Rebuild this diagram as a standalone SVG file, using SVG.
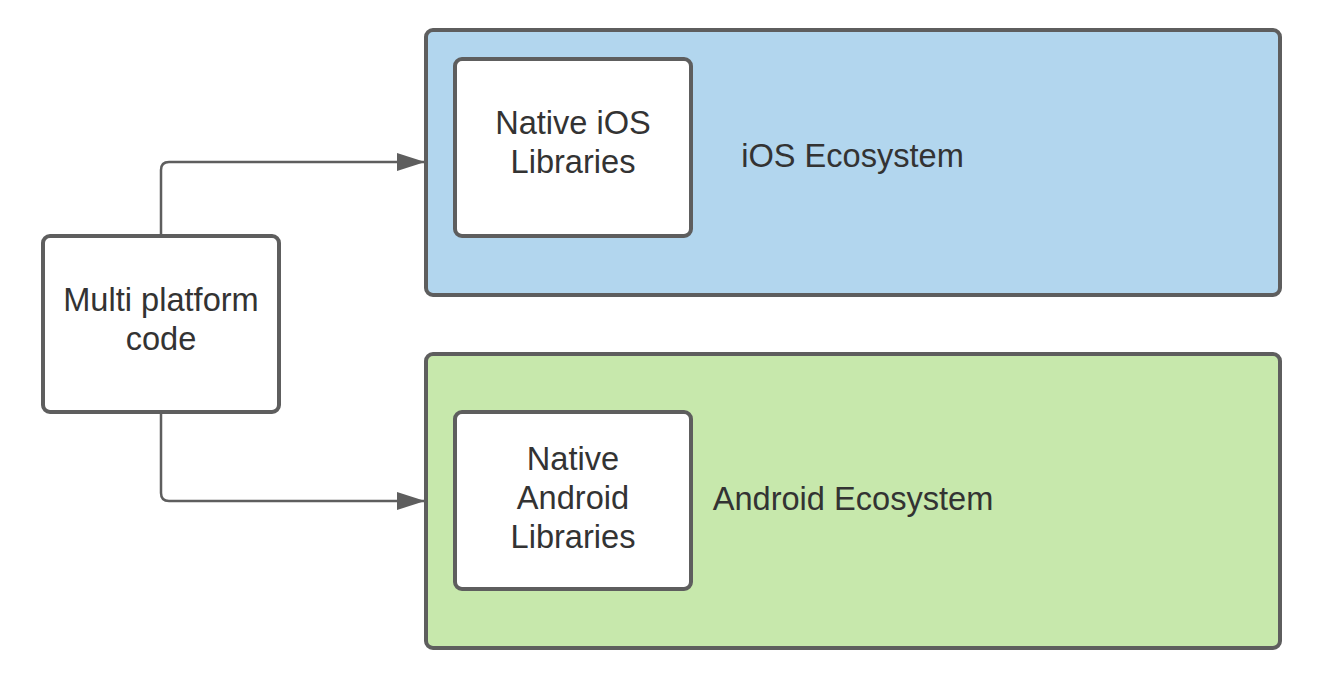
<svg xmlns="http://www.w3.org/2000/svg" width="1334" height="678" viewBox="0 0 1334 678">
<style>
.box{stroke:#5e5e5e;stroke-width:4}
.lbl{font-family:"Liberation Sans",Arial,sans-serif;font-size:32.6px;fill:#333333;text-anchor:middle}
.conn{fill:none;stroke:#5e5e5e;stroke-width:2.5}
</style>
<defs>
<marker id="arrow" viewBox="0 0 28 18" markerWidth="28" markerHeight="18" refX="27" refY="9" orient="auto" markerUnits="userSpaceOnUse">
<path d="M0,0 L28,9 L0,18 Z" fill="#5e5e5e"/>
</marker>
</defs>
<rect width="1334" height="678" fill="#ffffff"/>
<g id="ios-ecosystem">
<rect class="box" x="426" y="30" width="854" height="265" rx="7" fill="#b2d6ee"/>
<text class="lbl" x="852.5" y="167">iOS Ecosystem</text>
</g>
<g id="android-ecosystem">
<rect class="box" x="426" y="354" width="854" height="294" rx="7" fill="#c7e8ac"/>
<text class="lbl" x="853" y="510">Android Ecosystem</text>
</g>
<g id="native-ios">
<rect class="box" x="455" y="59" width="236" height="177" rx="7" fill="#ffffff"/>
<text class="lbl" x="573" y="134">Native iOS</text>
<text class="lbl" x="573" y="173">Libraries</text>
</g>
<g id="native-android">
<rect class="box" x="455" y="412" width="236" height="177" rx="7" fill="#ffffff"/>
<text class="lbl" x="573" y="470">Native</text>
<text class="lbl" x="573" y="509">Android</text>
<text class="lbl" x="573" y="548">Libraries</text>
</g>
<g id="multi-platform">
<rect class="box" x="43" y="236" width="236" height="176" rx="7" fill="#ffffff"/>
<text class="lbl" x="161" y="311">Multi platform</text>
<text class="lbl" x="161" y="350">code</text>
</g>
<g id="connectors">
<path class="conn" d="M161,236 L161,170 Q161,162 169,162 L424,162" marker-end="url(#arrow)"/>
<path class="conn" d="M161,412 L161,493 Q161,501 169,501 L424,501" marker-end="url(#arrow)"/>
</g>
</svg>
